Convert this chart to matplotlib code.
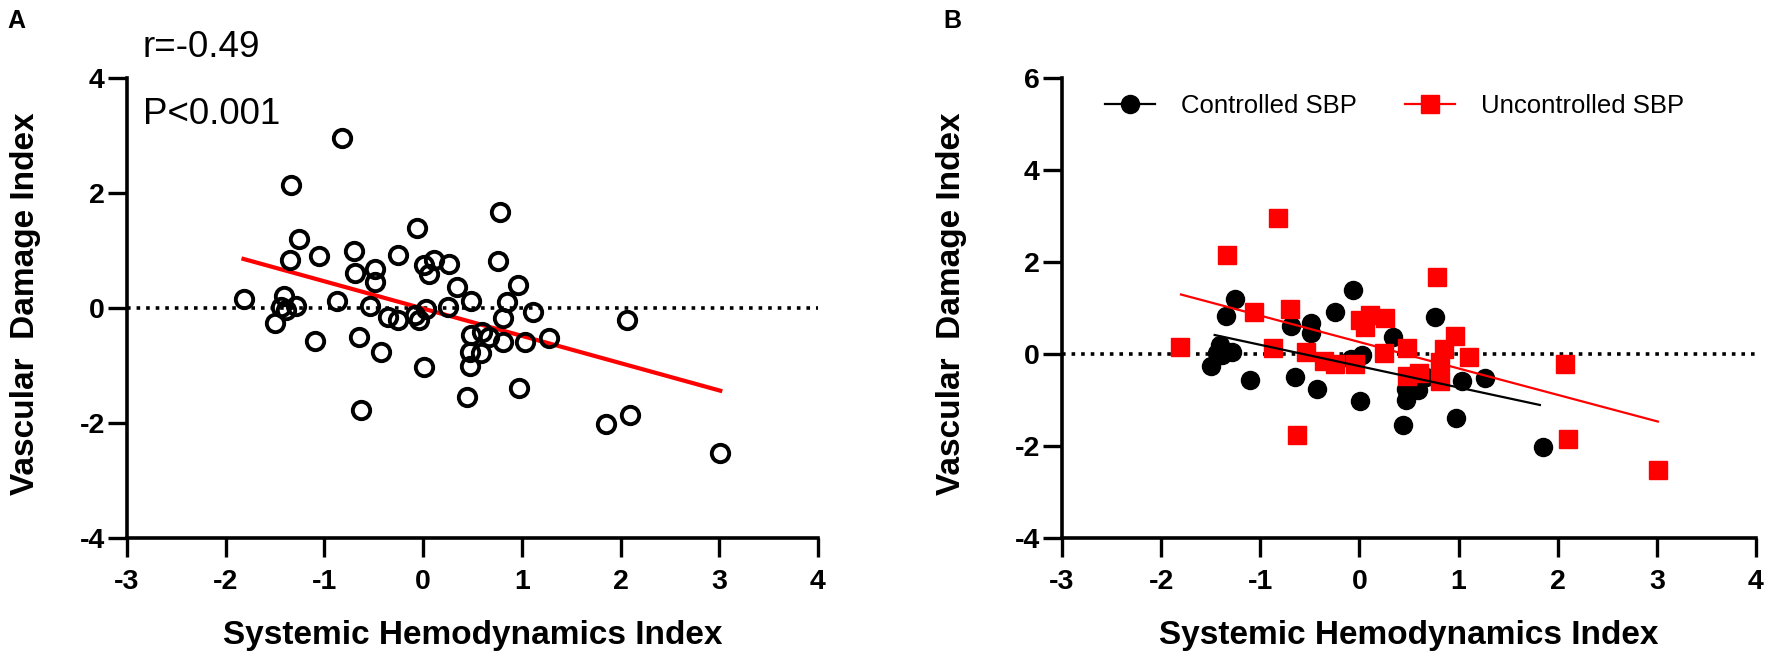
import numpy as np
import matplotlib.pyplot as plt

plt.rcParams['font.family'] = ['Liberation Sans', 'DejaVu Sans']
plt.rcParams['axes.unicode_minus'] = False

# Controlled SBP (black circles)
ctrl_x = [-1.26, -1.35, -1.41, -1.44, -1.29, -1.50, -1.39, -1.10, -0.69, -0.65,
          -0.49, -0.49, -0.43, -0.25, -0.06, -0.08, 0.03, 0.01, 0.34, 0.47,
          0.47, 0.59, 0.67, 0.44, 0.76, 1.03, 1.27, 0.97, 1.85]
ctrl_y = [1.20, 0.83, 0.20, 0.02, 0.04, -0.27, -0.03, -0.57, 0.60, -0.50,
          0.67, 0.45, -0.76, 0.92, 1.38, -0.12, -0.02, -1.02, 0.37, -0.77,
          -1.01, -0.78, -0.50, -1.55, 0.81, -0.59, -0.52, -1.39, -2.02]

# Uncontrolled SBP (red squares)
unc_x = [-1.81, -1.34, -0.82, -1.06, -0.70, -0.87, -0.54, -0.36, -0.25, -0.04,
         0.01, 0.11, 0.06, 0.26, 0.25, 0.48, 0.48, 0.60, 0.78, 0.96,
         0.85, 0.81, 0.81, 1.11, -0.63, 2.07, 2.10, 3.01]
unc_y = [0.15, 2.14, 2.96, 0.90, 0.98, 0.12, 0.04, -0.16, -0.21, -0.21,
         0.74, 0.84, 0.58, 0.77, 0.02, 0.12, -0.47, -0.42, 1.66, 0.39,
         0.10, -0.18, -0.59, -0.07, -1.77, -0.21, -1.86, -2.52]

# regression lines (endpoints)
fit_all_x, fit_all_y = [-1.82, 3.01], [0.85, -1.44]
fit_ctrl_x, fit_ctrl_y = [-1.46, 1.82], [0.41, -1.11]
fit_unc_x, fit_unc_y = [-1.80, 3.01], [1.29, -1.47]

xticks = [-3, -2, -1, 0, 1, 2, 3, 4]
yticks_a = [-4, -2, 0, 2, 4]
yticks_b = [-4, -2, 0, 2, 4, 6]

W, H = 1772, 665
fig = plt.figure(figsize=(W / 100, H / 100), dpi=100)
axA = fig.add_axes([127 / W, 1 - 538 / H, (818 - 127) / W, (538 - 77.7) / H])
axB = fig.add_axes([1062 / W, 1 - 538 / H, (1756 - 1062) / W, (538 - 77.7) / H])


def style(ax, yticks, ylab_x):
    for s in ['top', 'right']:
        ax.spines[s].set_visible(False)
    for s in ['left', 'bottom']:
        ax.spines[s].set_linewidth(2.6)
    ax.set_xlim(-3, 4)
    ax.set_ylim(yticks[0], yticks[-1])
    ax.set_xticks(xticks)
    ax.set_yticks(yticks)
    ax.tick_params(axis='both', length=14, width=2.4, labelsize=20.5)
    ax.tick_params(axis='x', pad=8)
    ax.tick_params(axis='y', pad=2)
    for lab in ax.get_xticklabels() + ax.get_yticklabels():
        lab.set_fontweight('bold')
    ax.set_xlabel('Systemic Hemodynamics Index', fontsize=24, fontweight='bold')
    ax.xaxis.set_label_coords(0.5, -0.178)
    ax.set_ylabel('Vascular  Damage Index', fontsize=24, fontweight='bold')
    # ylabel anchor is the right-hand (descender) edge of the rotated text
    ax.yaxis.set_label_coords(ylab_x, 0.51)
    ax.axhline(0, color='black', linestyle=':', linewidth=2.6, zorder=1)


# Panel A
style(axA, yticks_a, -0.1245)
axA.plot(fit_all_x, fit_all_y, color='#ff0000', linewidth=3, zorder=2)
axA.plot(ctrl_x + unc_x, ctrl_y + unc_y, linestyle='none', marker='o',
         markersize=12.5, markerfacecolor='none', markeredgecolor='black',
         markeredgewidth=2.8, zorder=3, clip_on=False)
axA.text(-2.84, 4.36, 'r=-0.49', fontsize=26.5, va='baseline', ha='left')
axA.text(-2.84, 3.19, 'P<0.001', fontsize=26.5, va='baseline', ha='left')

# Panel B
style(axB, yticks_b, -0.137)
axB.plot(ctrl_x, ctrl_y, linestyle='none', marker='o', markersize=13,
         color='black', zorder=3, clip_on=False)
axB.plot(unc_x, unc_y, linestyle='none', marker='s', markersize=13,
         color='#ff0000', zorder=3, clip_on=False)
axB.plot(fit_ctrl_x, fit_ctrl_y, color='black', linewidth=1.6, zorder=4)
axB.plot(fit_unc_x, fit_unc_y, color='#ff0000', linewidth=1.6, zorder=4)

h1, = axB.plot([], [], color='black', marker='o', markersize=13, linewidth=1.6)
h2, = axB.plot([], [], color='#ff0000', marker='s', markersize=13, linewidth=1.6)
fig.legend([h1, h2], ['Controlled SBP', 'Uncontrolled SBP'], ncol=2,
           loc='center left', bbox_to_anchor=(1092 / W, 1 - 106 / H),
           frameon=False, fontsize=18.5, borderpad=0, handlelength=1.95,
           handletextpad=1.0, columnspacing=1.9)

fig.text(7 / W, 1 - 28 / H, 'A', fontsize=18, fontweight='bold', va='baseline')
fig.text(943 / W, 1 - 28 / H, 'B', fontsize=18, fontweight='bold', va='baseline')

fig.savefig('out.png', dpi=100)
